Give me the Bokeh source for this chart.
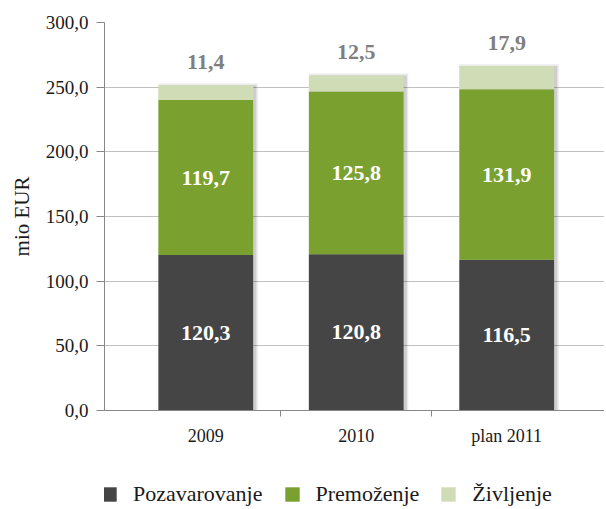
from bokeh.plotting import figure
from bokeh.layouts import column
from bokeh.models import (Range1d, FixedTicker, Legend, LegendItem, ColumnDataSource)
from bokeh.embed import file_html
from bokeh.resources import INLINE
from bokeh.core.properties import value

categories = ["2009", "2010", "plan 2011"]
pozavarovanje = [120.3, 120.8, 116.5]
premozenje = [119.7, 125.8, 131.9]
zivljenje = [11.4, 12.5, 17.9]
series_names = ["Pozavarovanje", "Premoženje", "Življenje"]
y_ticks = [0, 50, 100, 150, 200, 250, 300]
y_tick_labels = ["0,0", "50,0", "100,0", "150,0", "200,0", "250,0", "300,0"]

def fmt(v):
    return f"{v:.1f}".replace(".", ",")

FONT = "Liberation Serif"
colors = ["#454545", "#7aa02f", "#d0dcb6"]
W = 604

x = [i + 0.5 for i in range(len(categories))]
b1 = [0.0] * 3
t1 = [a for a in pozavarovanje]
t2 = [a + b for a, b in zip(t1, premozenje)]
t3 = [a + b for a, b in zip(t2, zivljenje)]

src = ColumnDataSource(dict(
    x=x, b1=b1, t1=t1, t2=t2, t3=t3,
    xs=[v + 0.016 for v in x],
    ts=[v + 1.5 for v in t3],
    m1=[v / 2 for v in t1],
    m2=[(a + b) / 2 for a, b in zip(t1, t2)],
    l1=[fmt(v) for v in pozavarovanje],
    l2=[fmt(v) for v in premozenje],
    l3=[fmt(v) for v in zivljenje],
))

p = figure(width=W, height=455, output_backend="svg", toolbar_location=None,
           x_range=Range1d(-0.173, 3.15), y_range=Range1d(0, 300),
           min_border_left=104, min_border_top=22, min_border_right=0,
           min_border_bottom=45)
p.outline_line_color = None
p.background_fill_color = "white"

# soft shadow
p.vbar(x="xs", width=0.66, bottom=0, top="ts", source=src,
       fill_color="#000000", fill_alpha=0.08, line_color=None)
p.vbar(x="xs", width=0.64, bottom=0, top="t3", source=src,
       fill_color="#000000", fill_alpha=0.12, line_color=None)

w = 0.63
r1 = p.vbar(x="x", width=w, bottom="b1", top="t1", source=src,
            fill_color=colors[0], line_color=None)
r2 = p.vbar(x="x", width=w, bottom="t1", top="t2", source=src,
            fill_color=colors[1], line_color=None)
r3 = p.vbar(x="x", width=w, bottom="t2", top="t3", source=src,
            fill_color=colors[2], line_color=None)

p.text(x="x", y="m1", text="l1", source=src, text_align="center",
       text_baseline="middle", text_color="white", text_font=value(FONT),
       text_font_style="bold", text_font_size="22px")
p.text(x="x", y="m2", text="l2", source=src, text_align="center",
       text_baseline="middle", text_color="white", text_font=value(FONT),
       text_font_style="bold", text_font_size="22px")
p.text(x="x", y="t3", text="l3", source=src, text_align="center",
       text_baseline="bottom", y_offset=-16, text_color="#7f7f7f",
       text_font=value(FONT), text_font_style="bold", text_font_size="22px")

# y axis
p.yaxis.ticker = FixedTicker(ticks=y_ticks)
p.yaxis.major_label_overrides = {t: l for t, l in zip(y_ticks, y_tick_labels)}
p.yaxis.minor_tick_line_color = None
p.yaxis.major_tick_in = 0
p.yaxis.major_tick_out = 8
p.yaxis.axis_line_color = "#868686"
p.yaxis.major_tick_line_color = "#868686"
p.yaxis.major_label_text_font = FONT
p.yaxis.major_label_text_font_size = "19px"
p.yaxis.major_label_text_color = "#1a1a1a"
p.yaxis.major_label_standoff = 8
p.yaxis.axis_label = "mio EUR"
p.yaxis.axis_label_text_font = FONT
p.yaxis.axis_label_text_font_size = "21px"
p.yaxis.axis_label_text_font_style = "normal"
p.yaxis.axis_label_text_color = "#1a1a1a"
p.yaxis.axis_label_standoff = 9

p.ygrid.grid_line_color = "#c0c0c0"
p.ygrid.ticker = FixedTicker(ticks=y_ticks)
p.xgrid.grid_line_color = None

# x axis
p.xaxis.ticker = FixedTicker(ticks=x, minor_ticks=[1, 2])
p.xaxis.major_label_overrides = {v: c for v, c in zip(x, categories)}
p.xaxis.major_tick_line_color = None
p.xaxis.major_tick_in = 0
p.xaxis.major_tick_out = 0
p.xaxis.minor_tick_in = 0
p.xaxis.minor_tick_out = 6
p.xaxis.minor_tick_line_color = "#868686"
p.xaxis.axis_line_color = "#868686"
p.xaxis.major_label_text_font = FONT
p.xaxis.major_label_text_font_size = "18px"
p.xaxis.major_label_text_color = "#1a1a1a"
p.xaxis.major_label_standoff = 9

# legend figure
lf = figure(width=W, height=52, output_backend="svg", toolbar_location=None,
            x_range=Range1d(0, 1), y_range=Range1d(0, 1),
            min_border=0)
lf.outline_line_color = None
lf.axis.visible = False
lf.grid.visible = False
dummy = ColumnDataSource(dict(x=[10.0], t=[20.0]))
lr = [lf.vbar(x="x", top="t", width=0.1, source=dummy, fill_color=c, line_color=None)
      for c in colors]
legend = Legend(items=[LegendItem(label=n, renderers=[r]) for n, r in zip(series_names, lr)],
                orientation="horizontal", location=(-4, 0),
                glyph_width=18, glyph_height=18, label_standoff=15, spacing=20,
                label_height=20,
                label_text_font=FONT, label_text_font_size="22px",
                label_text_color="#1a1a1a", border_line_color=None,
                background_fill_alpha=0, padding=0, margin=0)
lf.add_layout(legend, "center")

layout = column(p, lf, spacing=0)
open("out.html", "w").write(file_html(layout, INLINE))
